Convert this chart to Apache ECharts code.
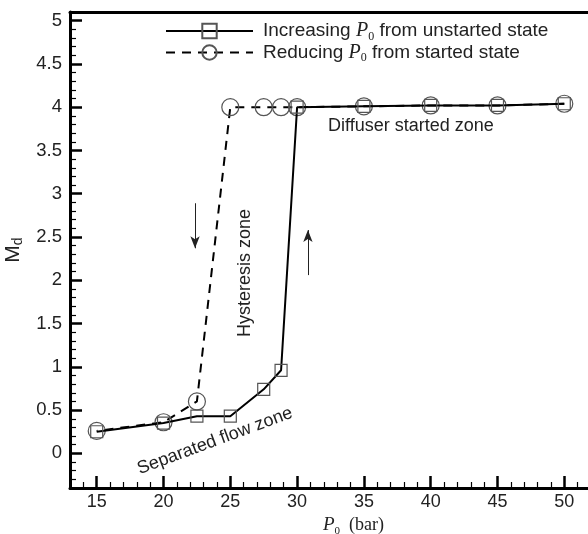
<!DOCTYPE html>
<html>
<head>
<meta charset="utf-8">
<script src="https://cdn.jsdelivr.net/npm/echarts@6/dist/echarts.min.js"></script>
<style>html,body{margin:0;padding:0;background:#fff}#c{width:588px;height:534px}</style>
</head>
<body>
<div id="c"></div>
<script>
// Data
const incX = [15, 20, 22.5, 25, 27.5, 28.8, 30, 35, 40, 45, 50];
const incY = [0.25, 0.35, 0.43, 0.43, 0.74, 0.96, 4.0, 4.01, 4.02, 4.02, 4.04];
const redX = [50, 45, 40, 35, 30, 28.8, 27.5, 25, 22.5, 20, 15];
const redY = [4.04, 4.02, 4.02, 4.01, 4.0, 4.0, 4.0, 4.0, 0.6, 0.36, 0.26];
const xTicks = [15, 20, 25, 30, 35, 40, 45, 50];
const yTicks = [0, 0.5, 1, 1.5, 2, 2.5, 3, 3.5, 4, 4.5, 5];
const seriesNames = ['Increasing P0 from unstarted state', 'Reducing P0 from started state'];
const arrowDown = [[22.36, 2.89], [22.36, 2.37]];
const arrowUp = [[30.81, 2.06], [30.81, 2.58]];

const xMinor = [];
for (let v = 14; v <= 51; v++) if (v % 5 !== 0) xMinor.push(v);
const yMinor = [];
for (let i = -3; i <= 51; i++) if (i % 5 !== 0) yMinor.push(Math.round(i) / 10);

const chart = echarts.init(document.getElementById('c'));
const sans = 'Liberation Sans, Arial, sans-serif';
const serif = 'Liberation Serif, Times New Roman, serif';
const X0 = 13, X1 = 52, Y0 = -0.4, Y1 = 5.1;

const legendRich = {
  a: { fontFamily: sans, fontSize: 19, color: '#222' },
  p: { fontFamily: serif, fontStyle: 'italic', fontSize: 20, color: '#222' },
  s: { fontFamily: serif, fontSize: 12, color: '#222', padding: [11, 0, 0, 0] }
};

chart.setOption({
  animation: false,
  backgroundColor: '#fff',
  grid: { left: 70, right: -3, top: 12, bottom: 46, outerBoundsMode: 'none', containLabel: false },
  legend: {
    data: seriesNames,
    orient: 'vertical',
    left: 160, top: 16,
    itemWidth: 87, itemHeight: 18, itemGap: 0,
    textStyle: { padding: [0, 0, 0, 5], rich: legendRich },
    formatter: function (n) {
      return n === seriesNames[0]
        ? '{a|Increasing }{p|P}{s|0}{a| from unstarted state}'
        : '{a|Reducing }{p|P}{s|0}{a| from started state}';
    }
  },
  xAxis: [
    {
      type: 'value', min: X0, max: X1, position: 'bottom',
      name: '{p|P}{s|0}{b|  (bar)}', nameLocation: 'middle', nameGap: 21,
      nameTextStyle: {
        padding: [0, 0, 0, 46],
        rich: {
          p: { fontFamily: serif, fontStyle: 'italic', fontSize: 19, color: '#222' },
          s: { fontFamily: serif, fontSize: 11, color: '#222', padding: [12, 0, 0, 0] },
          b: { fontFamily: serif, fontSize: 18, color: '#222' }
        }
      },
      axisLine: { show: true, onZero: false, lineStyle: { color: '#000', width: 3 } },
      axisTick: { show: true, inside: true, length: 12, customValues: xTicks, lineStyle: { color: '#000', width: 2.5 } },
      axisLabel: { show: true, customValues: xTicks, margin: 5, fontFamily: sans, fontSize: 18, color: '#222' },
      splitLine: { show: false }
    },
    {
      type: 'value', min: X0, max: X1, position: 'bottom',
      axisLine: { show: false, onZero: false },
      axisTick: { show: true, inside: true, length: 6, customValues: xMinor, lineStyle: { color: '#000', width: 1.2 } },
      axisLabel: { show: false },
      splitLine: { show: false }
    },
    {
      type: 'value', min: X0, max: X1, position: 'top',
      axisLine: { show: true, onZero: false, lineStyle: { color: '#000', width: 3 } },
      axisTick: { show: false }, axisLabel: { show: false }, splitLine: { show: false }
    }
  ],
  yAxis: [
    {
      type: 'value', min: Y0, max: Y1, position: 'left',
      name: '{m|M}{d|d}', nameLocation: 'middle', nameGap: 44, nameRotate: 90,
      nameTextStyle: {
        rich: {
          m: { fontFamily: sans, fontSize: 21, color: '#222' },
          d: { fontFamily: sans, fontSize: 14, color: '#222', padding: [10, 0, 0, 0] }
        }
      },
      axisLine: { show: true, onZero: false, lineStyle: { color: '#000', width: 3 } },
      axisTick: { show: true, inside: true, length: 12, customValues: yTicks, lineStyle: { color: '#000', width: 2.5 } },
      axisLabel: { show: true, customValues: yTicks, margin: 8, fontFamily: sans, fontSize: 18.5, color: '#222' },
      splitLine: { show: false }
    },
    {
      type: 'value', min: Y0, max: Y1, position: 'left',
      axisLine: { show: false, onZero: false },
      axisTick: { show: true, inside: true, length: 6, customValues: yMinor, lineStyle: { color: '#000', width: 1.2 } },
      axisLabel: { show: false },
      splitLine: { show: false }
    }
  ],
  series: [
    {
      name: seriesNames[0], type: 'line', xAxisIndex: 0, yAxisIndex: 0,
      data: incX.map((x, i) => [x, incY[i]]),
      symbol: 'rect', symbolSize: 12,
      lineStyle: { color: '#000', width: 2 },
      itemStyle: { color: 'rgba(255,255,255,0)', borderColor: '#555', borderWidth: 1.2 },
      z: 3
    },
    {
      name: seriesNames[1], type: 'line', xAxisIndex: 0, yAxisIndex: 0,
      data: redX.map((x, i) => [x, redY[i]]),
      symbol: 'circle', symbolSize: 17,
      lineStyle: { color: '#000', width: 2, type: [9, 7] },
      itemStyle: { color: 'rgba(255,255,255,0)', borderColor: '#555', borderWidth: 1.2 },
      z: 2
    },
    {
      name: 'arrows', type: 'line', xAxisIndex: 0, yAxisIndex: 0, data: [],
      markLine: {
        silent: true, symbol: ['none', 'arrow'], symbolSize: [7, 12],
        label: { show: false },
        lineStyle: { color: '#222', width: 1, type: 'solid' },
        data: [
          [{ coord: arrowDown[0] }, { coord: arrowDown[1] }],
          [{ coord: arrowUp[0] }, { coord: arrowUp[1] }]
        ]
      }
    }
  ],
  graphic: [
    { type: 'text', x: 245, y: 273, rotation: Math.PI / 2,
      style: { text: 'Hysteresis zone', fontFamily: sans, fontSize: 18, fill: '#222', align: 'center', verticalAlign: 'middle' } },
    { type: 'text', x: 215, y: 441, rotation: 0.356,
      style: { text: 'Separated flow zone', fontFamily: sans, fontSize: 18, fill: '#222', align: 'center', verticalAlign: 'middle' } },
    { type: 'text', x: 411, y: 126,
      style: { text: 'Diffuser started zone', fontFamily: sans, fontSize: 18, fill: '#222', align: 'center', verticalAlign: 'middle' } }
  ]
});
</script>
</body>
</html>
